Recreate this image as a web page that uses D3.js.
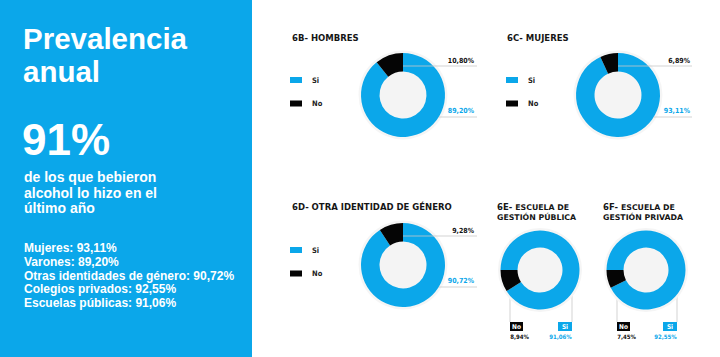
<!DOCTYPE html>
<html><head><meta charset="utf-8">
<script src="https://cdn.jsdelivr.net/npm/d3@7"></script>
<style>
html,body{margin:0;padding:0;background:#fff;}
svg{display:block;}
</style></head>
<body>
<svg id="chart" width="720" height="357"></svg>
<script>
// ---------- data ----------
const headline = ["Prevalencia", "anual"];
const bigValue = 91;
const subText = ["de los que bebieron", "alcohol lo hizo en el", "último año"];
const summaryLabels = ["Mujeres", "Varones", "Otras identidades de género", "Colegios privados", "Escuelas públicas"];
const summaryValues = [93.11, 89.20, 90.72, 92.55, 91.06];

const chartIds = ["6B-", "6C-", "6D-", "6E-", "6F-"];
const chartTitles = [["HOMBRES"], ["MUJERES"], ["OTRA IDENTIDAD DE GÉNERO"], ["ESCUELA DE", "GESTIÓN PÚBLICA"], ["ESCUELA DE", "GESTIÓN PRIVADA"]];
const categories = ["Si", "No"];
const siValues = [89.20, 93.11, 90.72, 91.06, 92.55];
const noValues = [10.80, 6.89, 9.28, 8.94, 7.45];

// ---------- style / layout ----------
const BLUE = "#0ba7ea";
const BLACK = "#050505";
const color = d3.scaleOrdinal().domain(categories).range([BLUE, BLACK]);
const loc = d3.formatLocale({decimal: ",", thousands: ".", grouping: [3], currency: ["", "%"]});
const pct = v => loc.format(".2f")(v) + "%";

const svg = d3.select("#chart");

// left panel
svg.append("rect").attr("x", 0).attr("y", 0).attr("width", 252).attr("height", 357).attr("fill", BLUE);
const lp = svg.append("g").attr("fill", "#fff").attr("font-family", "'Liberation Sans', Arial, sans-serif").attr("font-weight", "bold");
lp.selectAll("text.h").data(headline).join("text").attr("class", "h")
  .attr("x", 23).attr("y", (d, i) => 49 + i * 33).attr("font-size", 29.5).text(d => d);
lp.append("text").attr("x", 22).attr("y", 155).attr("font-size", 44).text(bigValue + "%");
lp.selectAll("text.s").data(subText).join("text").attr("class", "s")
  .attr("x", 24).attr("y", (d, i) => 182 + i * 15.5).attr("font-size", 14).text(d => d);
lp.selectAll("text.m").data(summaryLabels).join("text").attr("class", "m")
  .attr("x", 24).attr("y", (d, i) => 252 + i * 13.8).attr("font-size", 12)
  .text((d, i) => d + ": " + pct(summaryValues[i]));

// chart layouts
const layouts = [
  {tx: 292, ty: 40.5, cx: 403, cy: 95, ro: 42, ri: 23.5, start: 0, type: "side", lx: 290, ly: 77, labelX: 474, lineEnd: 477},
  {tx: 507, ty: 40.5, cx: 618, cy: 95, ro: 42, ri: 23.5, start: 0, type: "side", lx: 506, ly: 77, labelX: 690, lineEnd: 692},
  {tx: 292, ty: 210, cx: 403, cy: 265, ro: 42, ri: 23.5, start: 0, type: "side", lx: 290, ly: 247, labelX: 474, lineEnd: 477},
  {tx: 497, ty: 210, cx: 540, cy: 270, ro: 39.5, ri: 22.5, start: -Math.PI / 2, type: "below", left: 510, right: 572},
  {tx: 603, ty: 210, cx: 646, cy: 270, ro: 39.5, ri: 22.5, start: -Math.PI / 2, type: "below", left: 617, right: 677}
];

const pie = d3.pie().sort(null).value(d => d.value);
const condensed = "'Liberation Sans Narrow', 'DejaVu Sans Condensed', 'Roboto Condensed', sans-serif";
const titleFont = "'DejaVu Sans', Verdana, sans-serif";

layouts.forEach((L, k) => {
  const g = svg.append("g");
  const data = categories.map((c, j) => ({cat: c, value: j === 0 ? siValues[k] : noValues[k]}));

  // title
  const t = g.append("text").attr("x", L.tx).attr("y", L.ty).attr("font-family", titleFont)
    .attr("font-weight", "bold").attr("fill", "#161616");
  const lines = chartTitles[k];
  if (lines.length === 1) {
    t.attr("font-size", 8.5).text(chartIds[k] + " " + lines[0]);
  } else {
    t.append("tspan").attr("font-size", 8.5).text(chartIds[k] + " ");
    t.append("tspan").attr("font-size", 7.8).text(lines[0]);
    g.append("text").attr("x", L.tx).attr("y", L.ty + 9.5).attr("font-family", titleFont)
      .attr("font-weight", "bold").attr("fill", "#161616").attr("font-size", 7.8).text(lines[1]);
  }

  // leader lines for below-type (behind donut)
  if (L.type === "below") {
    g.append("line").attr("x1", L.left).attr("x2", L.left).attr("y1", L.cy).attr("y2", 322)
      .attr("stroke", "#c8c8c8").attr("stroke-width", 0.8);
    g.append("line").attr("x1", L.right).attr("x2", L.right).attr("y1", L.cy).attr("y2", 322)
      .attr("stroke", "#c8c8c8").attr("stroke-width", 0.8);
  }

  // halo + donut
  const d = g.append("g").attr("transform", `translate(${L.cx},${L.cy})`);
  d.append("circle").attr("r", L.ro + 2.5).attr("fill", "#f5f5f5");
  d.append("circle").attr("r", L.ri).attr("fill", "#f4f4f4");
  const arcs = pie.startAngle(L.start).endAngle(L.start + 2 * Math.PI)(data);
  const arc = d3.arc().innerRadius(L.ri).outerRadius(L.ro);
  d.selectAll("path").data(arcs).join("path").attr("d", arc).attr("fill", a => color(a.data.cat));

  if (L.type === "side") {
    // legend
    const lg = g.append("g").attr("transform", `translate(${L.lx},${L.ly})`);
    categories.forEach((c, j) => {
      lg.append("rect").attr("x", 0).attr("y", j * 23.5).attr("width", 12).attr("height", 6).attr("fill", color(c));
      lg.append("text").attr("x", 22).attr("y", j * 23.5 + 5.5).attr("font-family", condensed)
        .attr("font-weight", "bold").attr("font-size", 7.5).attr("fill", "#222").text(c);
    });
    // No label (top)
    g.append("line").attr("x1", L.cx).attr("x2", L.lineEnd).attr("y1", L.cy - 29).attr("y2", L.cy - 29)
      .attr("stroke", "#c8c8c8").attr("stroke-width", 0.8);
    g.append("text").attr("x", L.labelX).attr("y", L.cy - 32.5).attr("text-anchor", "end")
      .attr("font-family", condensed).attr("font-weight", "bold").attr("font-size", 7).attr("fill", "#111")
      .text(pct(noValues[k]));
    // Si label (lower right)
    const dy = 22;
    const xEdge = L.cx + Math.sqrt(L.ro * L.ro - dy * dy);
    g.append("line").attr("x1", xEdge).attr("x2", L.lineEnd).attr("y1", L.cy + dy).attr("y2", L.cy + dy)
      .attr("stroke", "#c8c8c8").attr("stroke-width", 0.8);
    g.append("text").attr("x", L.labelX).attr("y", L.cy + 18).attr("text-anchor", "end")
      .attr("font-family", condensed).attr("font-weight", "bold").attr("font-size", 7).attr("fill", BLUE)
      .text(pct(siValues[k]));
  } else {
    // No box at left line, Si box at right line
    g.append("rect").attr("x", L.left).attr("y", 322).attr("width", 13).attr("height", 9).attr("fill", BLACK);
    g.append("text").attr("x", L.left + 6.5).attr("y", 329.3).attr("text-anchor", "middle")
      .attr("font-family", condensed).attr("font-weight", "bold").attr("font-size", 6.5).attr("fill", "#fff").text(categories[1]);
    g.append("rect").attr("x", L.right - 14).attr("y", 322).attr("width", 14).attr("height", 9).attr("fill", BLUE);
    g.append("text").attr("x", L.right - 7).attr("y", 329.3).attr("text-anchor", "middle")
      .attr("font-family", condensed).attr("font-weight", "bold").attr("font-size", 6.5).attr("fill", "#fff").text(categories[0]);
    g.append("text").attr("x", L.left + 9.5).attr("y", 339).attr("text-anchor", "middle")
      .attr("font-family", condensed).attr("font-weight", "bold").attr("font-size", 6).attr("fill", "#111")
      .text(pct(noValues[k]));
    g.append("text").attr("x", L.right - 11.5).attr("y", 339).attr("text-anchor", "middle")
      .attr("font-family", condensed).attr("font-weight", "bold").attr("font-size", 6).attr("fill", BLUE)
      .text(pct(siValues[k]));
  }
});
</script>
</body></html>
